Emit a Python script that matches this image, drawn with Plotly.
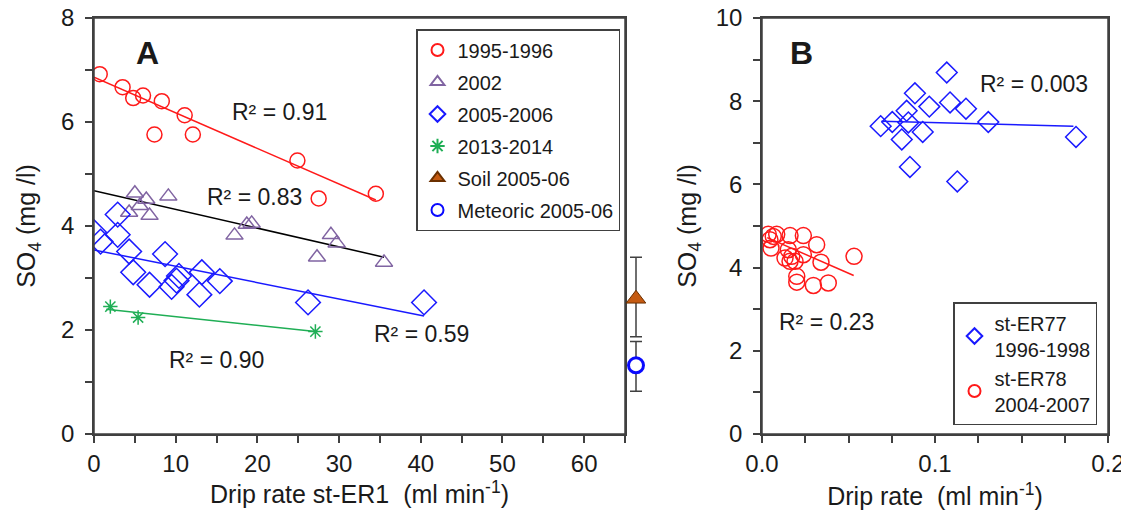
import plotly.graph_objects as go

# ---- Panel A : SO4 vs drip rate st-ER1 ----
a_9596_x = [0.7, 3.5, 4.8, 6.0, 8.3, 7.4, 11.1, 12.1, 24.9, 27.5, 34.5]
a_9596_y = [6.92, 6.67, 6.46, 6.51, 6.40, 5.76, 6.13, 5.76, 5.26, 4.53, 4.62]
a_9596_fit_x = [0.0, 34.5]
a_9596_fit_y = [6.86, 4.50]

a_2002_x = [4.3, 5.0, 5.6, 6.4, 6.8, 9.1, 17.2, 18.7, 19.3, 27.3, 29.0, 29.7, 35.5]
a_2002_y = [4.26, 4.63, 4.39, 4.51, 4.20, 4.57, 3.82, 4.03, 4.05, 3.40, 3.83, 3.67, 3.30]
a_2002_fit_x = [0.0, 35.5]
a_2002_fit_y = [4.68, 3.40]

a_0506_x = [0.0, 0.8, 2.9, 2.9, 4.3, 4.8, 6.8, 8.7, 9.5, 10.1, 10.4, 12.9, 13.2, 15.4, 26.2, 40.4]
a_0506_y = [3.88, 3.70, 4.22, 3.83, 3.51, 3.11, 2.87, 3.46, 2.83, 2.95, 3.04, 2.68, 3.11, 2.94, 2.53, 2.53]
a_0506_fit_x = [0.0, 40.4]
a_0506_fit_y = [3.54, 2.27]

a_1314_x = [2.0, 5.4, 27.1]
a_1314_y = [2.45, 2.24, 1.97]
a_1314_fit_x = [1.5, 27.1]
a_1314_fit_y = [2.40, 1.97]

soil_y, soil_up, soil_dn = 2.60, 0.80, 0.73
meteoric_y, meteoric_up, meteoric_dn = 1.32, 0.46, 0.50

a_r2_text = ["R² = 0.91", "R² = 0.83", "R² = 0.59", "R² = 0.90"]
a_r2_x = [22.7, 19.7, 40.1, 15.0]
a_r2_y = [6.19, 4.55, 1.93, 1.42]

# ---- Panel B : SO4 vs drip rate st-ER77 / st-ER78 ----
b_er77_x = [0.0686, 0.0753, 0.0836, 0.0846, 0.0884, 0.0808, 0.0855, 0.0929, 0.0967,
            0.1068, 0.1087, 0.1179, 0.1129, 0.1308, 0.1815]
b_er77_y = [7.40, 7.50, 7.77, 7.49, 8.19, 7.08, 6.42, 7.26, 7.87,
            8.69, 7.97, 7.82, 6.07, 7.50, 7.14]
b_er77_fit_x = [0.069, 0.180]
b_er77_fit_y = [7.52, 7.40]

b_er78_x = [0.0036, 0.0065, 0.0085, 0.0046, 0.0052, 0.0162, 0.0239, 0.0316, 0.0152, 0.0133,
            0.0172, 0.0162, 0.0191, 0.0239, 0.0341, 0.0532, 0.0201, 0.0201, 0.0297, 0.0383]
b_er78_y = [4.80, 4.75, 4.80, 4.67, 4.47, 4.77, 4.77, 4.55, 4.43, 4.23,
            4.27, 4.15, 4.15, 4.31, 4.13, 4.27, 3.79, 3.65, 3.57, 3.63]
b_er78_fit_x = [0.003, 0.053]
b_er78_fit_y = [4.72, 3.81]

RED = "#ff1a1a"
PURPLE = "#8064a2"
BLUE = "#1a1aff"
GREEN = "#1fae55"
SOIL = "#c55a11"
FRAME = "#404040"
FONT = "Liberation Sans, Arial, sans-serif"

fig = go.Figure()

def pts(x, y, name, symbol, color, size, xa="x", ya="y", legend="legend", group=None):
    fig.add_trace(go.Scatter(
        x=x, y=y, mode="markers", name=name, xaxis=xa, yaxis=ya, legend=legend,
        legendgroup=group or name,
        marker=dict(symbol=symbol, size=size, color=color, line=dict(color=color, width=1.5)),
    ))

def fit(x, y, color, xa="x", ya="y"):
    fig.add_trace(go.Scatter(x=x, y=y, mode="lines", xaxis=xa, yaxis=ya, showlegend=False,
                             line=dict(color=color, width=1.5), hoverinfo="skip"))

# panel A fits first so markers sit on top
fit(a_9596_fit_x, a_9596_fit_y, RED)
fit(a_2002_fit_x, a_2002_fit_y, "black")
fit(a_0506_fit_x, a_0506_fit_y, BLUE)
fit(a_1314_fit_x, a_1314_fit_y, GREEN)

pts(a_9596_x, a_9596_y, "1995-1996", "circle-open", RED, 15)
pts(a_2002_x, a_2002_y, "2002", "triangle-up-open", PURPLE, 15)
pts(a_0506_x, a_0506_y, "2005-2006", "diamond-open", BLUE, 19)
pts(a_1314_x, a_1314_y, "2013-2014", "asterisk-open", GREEN, 12)

# soil and meteoric end-members drawn just right of the panel A frame
fig.add_trace(go.Scatter(
    x=[0.5], y=[soil_y], mode="markers", name="Soil 2005-06", xaxis="x3", yaxis="y",
    legendgroup="soil",
    marker=dict(symbol="triangle-up", size=17, color=SOIL, line=dict(color="#6b3000", width=1)),
    error_y=dict(type="data", array=[soil_up], arrayminus=[soil_dn], color=FRAME, thickness=1.5, width=6),
))
fig.add_trace(go.Scatter(
    x=[0.5], y=[meteoric_y], mode="markers", name="Meteoric 2005-06", xaxis="x3", yaxis="y",
    legendgroup="meteoric",
    marker=dict(symbol="circle", size=15, color="white", line=dict(color="#0a0aff", width=3)),
    error_y=dict(type="data", array=[meteoric_up], arrayminus=[meteoric_dn], color=FRAME, thickness=1.5, width=6),
))

# panel B
fit(b_er77_fit_x, b_er77_fit_y, BLUE, "x2", "y2")
fit(b_er78_fit_x, b_er78_fit_y, RED, "x2", "y2")
pts(b_er77_x, b_er77_y, "st-ER77<br>1996-1998", "diamond-open", BLUE, 16, "x2", "y2", "legend2", "b77")
pts(b_er78_x, b_er78_y, "st-ER78<br>2004-2007", "circle-open", RED, 16, "x2", "y2", "legend2", "b78")

ann = []
for t, x, y in zip(a_r2_text, a_r2_x, a_r2_y):
    ann.append(dict(text=t, x=x, y=y, xref="x", yref="y", showarrow=False, font=dict(size=23)))
ann.append(dict(text="<b>A</b>", x=6.6, y=7.32, xref="x", yref="y", showarrow=False, font=dict(size=32)))
ann.append(dict(text="R² = 0.003", x=0.157, y=8.42, xref="x2", yref="y2", showarrow=False, font=dict(size=23)))
ann.append(dict(text="R² = 0.23", x=0.037, y=2.70, xref="x2", yref="y2", showarrow=False, font=dict(size=23)))
ann.append(dict(text="<b>B</b>", x=0.023, y=9.17, xref="x2", yref="y2", showarrow=False, font=dict(size=32)))

# the page body adds an 8px margin, so the figure is made smaller and layout pixels shifted back
OFF = 8
W, H = 1129 - 2 * OFF, 527 - 2 * OFF


def fx(px):
    return (px - OFF) / W


def fy(py):
    return 1 - (py - OFF) / H


dom_y = [fy(434), fy(18)]

axis_common = dict(showline=True, mirror=True, linecolor=FRAME, linewidth=1.5, ticks="outside",
                   ticklen=7, tickwidth=1.5, tickcolor=FRAME, showgrid=False, zeroline=False,
                   automargin=False, ticklabeloverflow="allow",
                   tickfont=dict(size=24), title_font=dict(size=25))

# plot frames
frames = [dict(type="rect", xref=f"{xa} domain", yref=f"{ya} domain", x0=0, x1=1, y0=0, y1=1,
               line=dict(color=FRAME, width=1.5), layer="above")
          for xa, ya in [("x", "y"), ("x2", "y2")]]

fig.update_layout(
    width=W, height=H,
    margin=dict(l=0, r=0, t=0, b=0, autoexpand=False),
    paper_bgcolor="white", plot_bgcolor="white",
    font=dict(family=FONT, color="#1a1a1a"),
    xaxis=dict(axis_common, domain=[fx(94), fx(625)], range=[0, 65], dtick=10,
               minor=dict(dtick=5, ticks="outside", ticklen=7, tickcolor=FRAME),
               title=dict(text="Drip rate st-ER1  (ml min<sup>-1</sup>)", standoff=9)),
    yaxis=dict(axis_common, domain=dom_y, range=[0, 8], dtick=2,
               minor=dict(dtick=1, ticks="outside", ticklen=7, tickcolor=FRAME),
               ticklabelstandoff=6,
               title=dict(text="SO<sub>4</sub> (mg /l)", standoff=18)),
    xaxis3=dict(domain=[fx(626), fx(646)], range=[0, 1], anchor="y", visible=False),
    xaxis2=dict(axis_common, domain=[fx(762), fx(1108)], range=[0, 0.2], dtick=0.1, tickformat=".1f",
                anchor="y2",
                minor=dict(dtick=0.025, ticks="outside", ticklen=7, tickcolor=FRAME),
                title=dict(text="Drip rate  (ml min<sup>-1</sup>)", standoff=12)),
    yaxis2=dict(axis_common, domain=dom_y, range=[0, 10], dtick=2, anchor="x2",
                minor=dict(dtick=1, ticks="outside", ticklen=7, tickcolor=FRAME),
                ticklabelstandoff=6,
                title=dict(text="SO<sub>4</sub> (mg /l)", standoff=12)),
    legend=dict(x=fx(416), y=fy(29), xanchor="left", yanchor="top", bordercolor=FRAME,
                borderwidth=1.5, bgcolor="white", font=dict(size=20), traceorder="grouped",
                tracegroupgap=3, itemsizing="constant"),
    legend2=dict(x=fx(953), y=fy(302), xanchor="left", yanchor="top", bordercolor=FRAME,
                 borderwidth=1.5, bgcolor="white", font=dict(size=20), traceorder="grouped",
                 tracegroupgap=0, itemsizing="constant"),
    shapes=frames,
    annotations=ann,
)

fig.write_html("out.html")
